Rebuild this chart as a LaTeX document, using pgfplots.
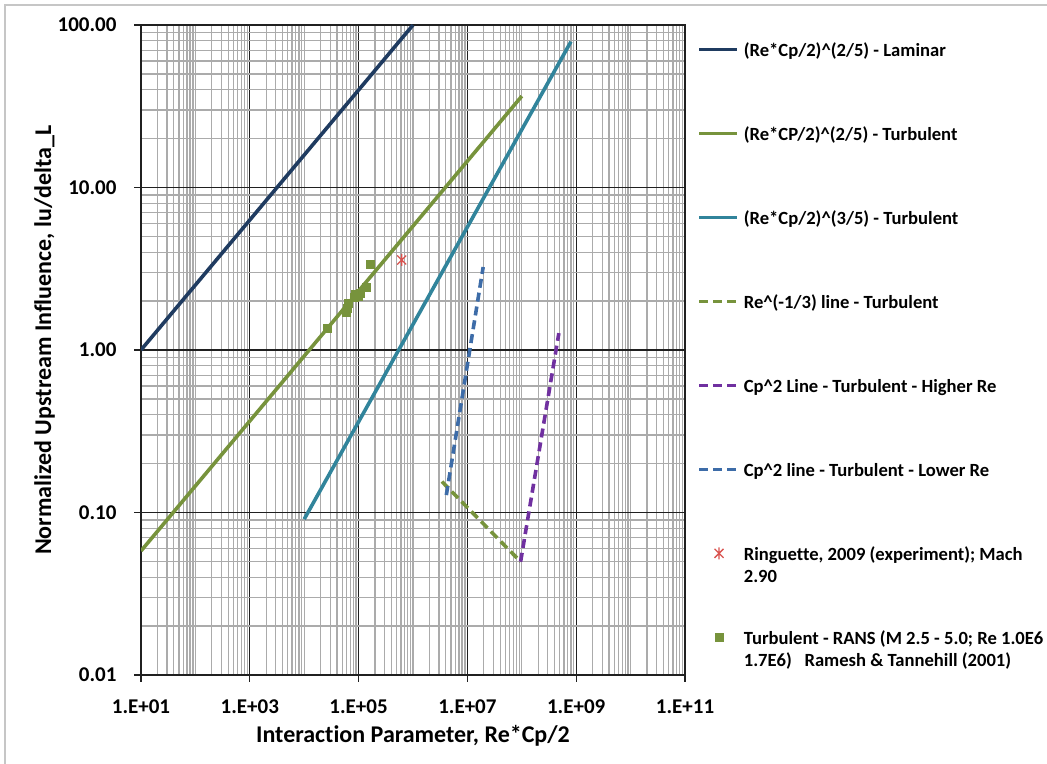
\documentclass[border=0pt]{standalone}
\usepackage{fontspec}
\setmainfont{Carlito}[Ligatures=NoCommon]
\usepackage{pgfplots}
\pgfplotsset{compat=1.18}
\definecolor{lam}{HTML}{1F3B60}
\definecolor{oliv}{HTML}{77933C}
\definecolor{tealc}{HTML}{31849B}
\definecolor{purp}{HTML}{7030A0}
\definecolor{blued}{HTML}{3D6CA8}
\definecolor{redm}{HTML}{D9534F}
\definecolor{mingrid}{HTML}{ABABAB}
\definecolor{majgrid}{HTML}{202020}
\pgfdeclareplotmark{xbar}{%
 \pgfpathmoveto{\pgfqpoint{-.75\pgfplotmarksize}{-.75\pgfplotmarksize}}\pgfpathlineto{\pgfqpoint{.75\pgfplotmarksize}{.75\pgfplotmarksize}}%
 \pgfpathmoveto{\pgfqpoint{-.75\pgfplotmarksize}{.75\pgfplotmarksize}}\pgfpathlineto{\pgfqpoint{.75\pgfplotmarksize}{-.75\pgfplotmarksize}}%
 \pgfpathmoveto{\pgfqpoint{0pt}{-\pgfplotmarksize}}\pgfpathlineto{\pgfqpoint{0pt}{\pgfplotmarksize}}%
 \pgfusepathqstroke}
\newcommand{\legtxt}[1]{\raisebox{0pt}[15bp][3bp]{\begin{tabular}[t]{@{}l@{}}#1\end{tabular}}}
\pgfplotsset{
 linelegend/.style={legend image code/.code={\draw[##1] (0bp,0bp) -- (38bp,0bp);}},
 marklegend/.style={legend image code/.code={\draw[mark repeat=2,mark phase=2,##1] plot coordinates {(0bp,0bp) (20bp,0bp) (40bp,0bp)};}},
}
\begin{document}
\begin{tikzpicture}[x=1bp,y=1bp]
\useasboundingbox (0,0) rectangle (1047,764);
\draw[gray!45, line width=1.5bp] (5,-10) -- (5,759) -- (1060,759);
\begin{axis}[
  at={(141bp,89bp)}, anchor=south west,
  scale only axis, width=544bp, height=650bp,
  xmode=log, ymode=log,
  xmin=10, xmax=1e11, ymin=0.01, ymax=100,
  xtick={1e1,1e3,1e5,1e7,1e9,1e11},
  xticklabels={1.E+01,1.E+03,1.E+05,1.E+07,1.E+09,1.E+11},
  ytick={0.01,0.1,1,10,100},
  yticklabels={0.01,0.10,1.00,10.00,100.00},
  minor xtick={2e1,3e1,4e1,5e1,6e1,7e1,8e1,9e1,1e2,2e2,3e2,4e2,5e2,6e2,7e2,8e2,9e2,
    2e3,3e3,4e3,5e3,6e3,7e3,8e3,9e3,1e4,2e4,3e4,4e4,5e4,6e4,7e4,8e4,9e4,
    2e5,3e5,4e5,5e5,6e5,7e5,8e5,9e5,1e6,2e6,3e6,4e6,5e6,6e6,7e6,8e6,9e6,
    2e7,3e7,4e7,5e7,6e7,7e7,8e7,9e7,1e8,2e8,3e8,4e8,5e8,6e8,7e8,8e8,9e8,
    2e9,3e9,4e9,5e9,6e9,7e9,8e9,9e9,1e10,2e10,3e10,4e10,5e10,6e10,7e10,8e10,9e10},
  minor ytick={2e-2,3e-2,4e-2,5e-2,6e-2,7e-2,8e-2,9e-2,2e-1,3e-1,4e-1,5e-1,6e-1,7e-1,8e-1,9e-1,
    2,3,4,5,6,7,8,9,20,30,40,50,60,70,80,90},
  grid=both,
  major grid style={majgrid, line width=1.3bp},
  minor grid style={mingrid, line width=1.3bp},
  axis line style={majgrid, line width=1.3bp},
  tick align=outside, xtick pos=lower, ytick pos=left,
  major tick length=7bp, minor tick length=0pt,
  tick style={majgrid, line width=1.3bp},
  tick label style={font=\fontsize{21bp}{24bp}\selectfont\bfseries},
  xticklabel style={yshift=-14bp},
  yticklabel style={xshift=-14bp},
  xlabel={Interaction Parameter, Re*Cp/2},
  ylabel={Normalized Upstream Influence, lu/delta\_L},
  label style={font=\fontsize{24bp}{28bp}\selectfont\bfseries},
  xlabel style={at={(axis description cs:0.5,-0.1046)}, anchor=base},
  ylabel style={at={(axis description cs:-0.1654,0.515)}, anchor=base},
  legend style={at={(1.0221,0.9755)}, anchor=north west, draw=none, fill=none,
    inner sep=0pt, row sep=67.5bp, column sep=5bp,
    nodes={inner sep=0pt, font=\fontsize{18.6bp}{22.7bp}\selectfont\bfseries}},
  legend cell align=left,
]
\addplot[lam, line width=3.6bp, linelegend] coordinates {(10,1) (1e6,100)};
\addlegendentry{\legtxt{(Re*Cp/2)\^{}(2/5) - Laminar}}
\addplot[oliv, line width=3.6bp, linelegend] coordinates {(10,0.058) (1e8,36.5)};
\addlegendentry{\legtxt{(Re*CP/2)\^{}(2/5) - Turbulent}}
\addplot[tealc, line width=3.6bp, linelegend] coordinates {(1e4,0.091) (8e8,79)};
\addlegendentry{\legtxt{(Re*Cp/2)\^{}(3/5) - Turbulent}}
\addplot[oliv, line width=3.6bp, dash pattern=on 9bp off 5bp, linelegend] coordinates {(3.4e6,0.155) (9.5e7,0.0498)};
\addlegendentry{\legtxt{Re\^{}(-1/3) line - Turbulent}}
\addplot[purp, line width=3.6bp, dash pattern=on 9bp off 5bp, linelegend] coordinates {(9.5e7,0.0498) (4.8e8,1.27)};
\addlegendentry{\legtxt{Cp\^{}2 Line - Turbulent - Higher Re}}
\addplot[blued, line width=3.6bp, dash pattern=on 9bp off 5bp, linelegend] coordinates {(4.1e6,0.128) (1.95e7,3.24)};
\addlegendentry{\legtxt{Cp\^{}2 line - Turbulent - Lower Re}}
\addplot[only marks, mark=xbar, mark size=6bp, redm, line width=1.3bp, marklegend] coordinates {(6.2e5,3.58)};
\addlegendentry{\legtxt{Ringuette, 2009 (experiment); Mach\\2.90}}
\addplot[only marks, mark=square*, mark size=4bp, oliv, marklegend] coordinates {
 (2.6e4,1.37) (6.0e4,1.72) (6.2e4,1.80) (6.4e4,1.93) (8.3e4,2.10) (8.8e4,2.22)
 (1.0e5,2.15) (1.05e5,2.25) (1.37e5,2.43) (1.66e5,3.35)};
\addlegendentry{\legtxt{Turbulent - RANS (M 2.5 - 5.0; Re 1.0E6\\1.7E6)\ \ \ Ramesh \& Tannehill (2001)}}
\end{axis}
\end{tikzpicture}
\end{document}
